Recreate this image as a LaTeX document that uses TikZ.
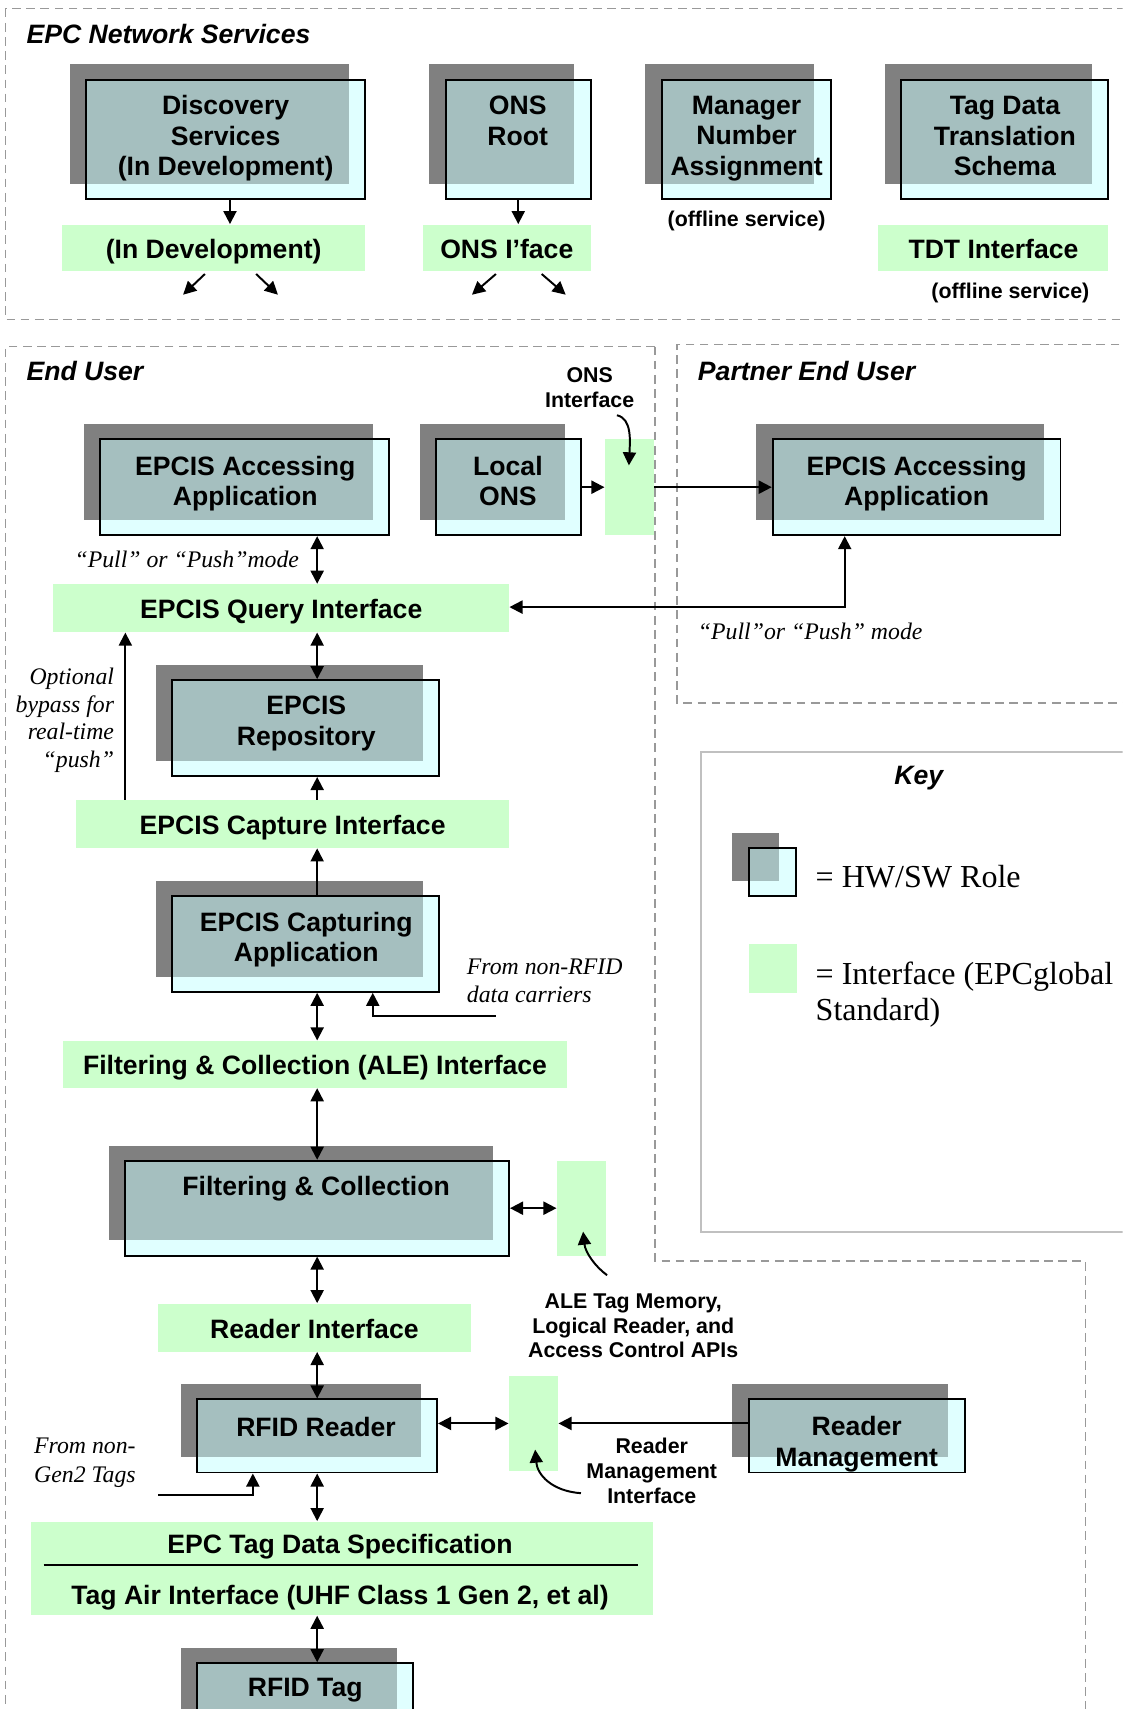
\documentclass[tikz,border=0pt]{standalone}
\usepackage{fontspec}
\setmainfont{Liberation Serif}
\setsansfont{Liberation Sans}
\usetikzlibrary{arrows.meta,fit,calc}
\definecolor{shadowgray}{HTML}{808080}
\definecolor{frontcyan}{HTML}{E0FFFF}
\definecolor{overlapgray}{HTML}{A5BFBF}
\definecolor{ifgreen}{HTML}{CCFFCC}
\definecolor{framegray}{HTML}{999999}
\definecolor{keygray}{HTML}{C0C0C0}
\newcommand\dgBox{\sffamily\bfseries\fontsize{12.2}{14}\selectfont}
\newcommand\dgSmall{\sffamily\bfseries\fontsize{9.8}{11.3}\selectfont}
\newcommand\dgTitle{\sffamily\bfseries\itshape\fontsize{12.2}{14}\selectfont}
\newcommand\dgNote{\rmfamily\itshape\fontsize{10.9}{12.6}\selectfont}
\newcommand\dgKey{\rmfamily\fontsize{14.7}{16.5}\selectfont}
% role box: name, x1, y1, x2, y2 of the front box
\newcommand\rolebox[5]{%
  \fill[shadowgray] (#2-15,#3-14) rectangle (#4-15,#5-14);
  \fill[frontcyan] (#2,#3) rectangle (#4,#5);
  \fill[overlapgray] (#2,#3) rectangle (#4-15,#5-14);
  \node[rolefront, fit={(#2,#3) (#4,#5)}] (#1) {};
}
% interface box: name, x1, y1, x2, y2, text
\newcommand\ifbox[6]{%
  \node[iface, fit={(#2,#3) (#4,#5)}] (#1) {};
  \node[boxtext, text height=0.73em, text depth=0.21em, yshift=-2.2pt] (#1-t) at (#1.center) {#6};
}
\begin{document}
\begin{tikzpicture}[x=0.5pt,y=-0.5pt,
  rolefront/.style={draw=black, line width=0.9pt, inner sep=0pt},
  iface/.style={fill=ifgreen, inner sep=0pt},
  boxtext/.style={font=\dgBox, align=center, inner sep=0pt},
  roletext/.style={boxtext, yshift=-1pt},
  smalltext/.style={font=\dgSmall, align=center, inner sep=0pt},
  titletext/.style={font=\dgTitle, anchor=west, inner sep=0pt},
  notetext/.style={font=\dgNote, inner sep=0pt},
  keytext/.style={font=\dgKey, anchor=west, align=left, inner sep=0pt},
  frame/.style={draw=framegray, line width=0.6pt, dash pattern=on 4pt off 2.5pt},
  keyframe/.style={draw=keygray, line width=0.9pt},
  arr/.style={line width=0.9pt, -{Triangle[length=6pt,width=6pt]}},
  darr/.style={line width=0.9pt, {Triangle[length=6pt,width=6pt]}-{Triangle[length=6pt,width=6pt]}}
]
\useasboundingbox (0,0) rectangle (1030,1568);
\clip (0,0) rectangle (1030,1568);

% ---------- frames ----------
\draw[frame] (5,8) rectangle (1040,293);
\draw[frame] (601,318) -- (5,318) -- (5,1580);
\draw[frame] (601,318) -- (601,1157) -- (996,1157) -- (996,1580);
\draw[frame] (1040,316) -- (621,316) -- (621,645) -- (1040,645);
\draw[keyframe] (1040,690) -- (643,690) -- (643,1130) -- (1040,1130);

\node[titletext] (t-net) at (24,31) {EPC Network Services};
\node[titletext] (t-eu) at (24,340) {End User};
\node[titletext] (t-peu) at (640,340) {Partner End User};
\node[font=\dgTitle, inner sep=0pt] (t-key) at (843,714) {Key};

% ---------- EPC Network Services ----------
\rolebox{disc}{79}{73}{335}{183}
\node[roletext] (disc-t) at (207,125) {Discovery\\Services\\(In Development)};
\rolebox{onsroot}{409}{73}{542}{183}
\node[boxtext] (onsroot-t) at (475,111) {ONS\\Root};
\rolebox{mna}{607}{73}{762}{183}
\node[roletext] (mna-t) at (685,125) {Manager\\Number\\Assignment};
\rolebox{tdt}{827}{73}{1017}{183}
\node[boxtext] (tdt-t) at (922,125) {Tag Data\\Translation\\Schema};

\ifbox{indev}{57}{206}{335}{249}{(In Development)}
\ifbox{onsiface}{388}{206}{542}{249}{ONS I’face}
\ifbox{tdtif}{806}{206}{1017}{249}{TDT Interface}
\node[smalltext] (off1) at (685,203) {(offline service)};
\node[smalltext] (off2) at (927,269) {(offline service)};

\draw[arr] ($(disc.south)+(4,0)$) -- ($(disc.south |- indev.north)+(4,0)$);
\draw[arr] (onsroot.south) -- (onsroot.south |- onsiface.north);
\draw[arr] ($(indev.south)+(-8,2)$) -- ++(-20,19);
\draw[arr] ($(indev.south)+(39,2)$) -- ++(20,19);
\draw[arr] ($(onsiface.south)+(-10,2)$) -- ++(-22,19);
\draw[arr] ($(onsiface.south)+(32,2)$) -- ++(22,19);

% ---------- End User ----------
\coordinate (sx) at (291,0);
\coordinate (bx) at (115,0);

\rolebox{acc}{92}{403}{357}{491}
\node[roletext] (acc-t) at (225,441.5) {EPCIS Accessing\\Application};
\rolebox{lons}{400}{403}{533}{491}
\node[boxtext] (lons-t) at (466,441.5) {Local\\ONS};
\ifbox{onsif}{555}{403}{600}{491}{}
\node[smalltext] (onsif-t) at (541,355.5) {ONS\\Interface};
\coordinate (onsl) at (566,381);
\coordinate (onsp) at (577,427);
\draw[arr] (onsl) .. controls (580,384) and (578,405) .. (onsp);

\rolebox{pacc}{709}{403}{973}{491}
\node[roletext] (pacc-t) at (841,441.5) {EPCIS Accessing\\Application};

\draw[arr] (lons.east) -- (onsif.west);
\draw[arr] (onsif.east) -- (pacc.west);

\ifbox{qi}{49}{536}{467}{580}{EPCIS Query Interface}
\node[notetext, anchor=west] (pp1) at (68,513) {“Pull” or “Push”mode};
\draw[darr] (acc.south -| sx) -- (qi.north -| sx);

\coordinate (pb) at (775,557);
\draw[darr] (pacc.south -| pb) -- (pb) -- (qi.east |- pb);
\node[notetext, anchor=west] (pp2) at (640,579) {“Pull”or “Push” mode};

\rolebox{rep}{158}{624}{403}{712}
\node[roletext] (rep-t) at (281,662) {EPCIS\\Repository};
\draw[darr] (qi.south -| sx) -- (rep.north -| sx);

\ifbox{ci}{70}{734}{467}{778}{EPCIS Capture Interface}
\draw[arr] (ci.north -| sx) -- (rep.south -| sx);
\draw[arr] (ci.north -| bx) -- (qi.south -| bx);
\node[notetext, anchor=east, align=right] (byp) at (105,661) {Optional\\bypass for\\real-time\\“push”};

\rolebox{cap}{158}{822}{403}{910}
\node[roletext] (cap-t) at (281,860) {EPCIS Capturing\\Application};
\draw[arr] (cap.north -| sx) -- (ci.south -| sx);

\coordinate (nr) at (455,932);
\coordinate (nrx) at (342,0);
\draw[arr] (nr) -| (cap.south -| nrx);
\node[notetext, anchor=west, align=left] (nrt) at (428,900) {From non-RFID\\data carriers};

\ifbox{ale}{58}{955}{520}{998}{Filtering \& Collection (ALE) Interface}
\draw[darr] (cap.south -| sx) -- (ale.north -| sx);

\rolebox{fc}{115}{1065}{467}{1152}
\node[roletext] (fc-t) at (290,1089) {Filtering \& Collection};
\draw[darr] (ale.south -| sx) -- (fc.north -| sx);

\ifbox{aleif}{511}{1065}{556}{1152}{}
\draw[darr] (fc.east) -- (aleif.west);
\coordinate (alec) at (557,1170);
\coordinate (alep) at (535,1130);
\draw[arr] (alec) .. controls (546,1162) and (537,1149) .. (alep);
\node[smalltext, font=\sffamily\bfseries\fontsize{9.8}{11.25}\selectfont] (alet) at (581,1216.5) {ALE Tag Memory,\\Logical Reader, and\\Access Control APIs};

\ifbox{ri}{145}{1196}{432}{1240}{Reader Interface}
\draw[darr] (fc.south -| sx) -- (ri.north -| sx);

\rolebox{rr}{181}{1284}{401}{1351}
\node[boxtext] (rr-t) at (290,1309) {RFID Reader};
\draw[darr] (ri.south -| sx) -- (rr.north -| sx);

\ifbox{rmif}{467}{1262}{512}{1350}{}
\rolebox{rm}{687}{1284}{885}{1351}
\node[roletext] (rm-t) at (786,1323) {Reader\\Management};
\draw[darr] (rr.east |- rmif.west) -- (rmif.west);
\draw[arr] (rm.west |- rmif.east) -- (rmif.east);
\coordinate (rmc) at (533,1370);
\coordinate (rmp) at (491,1330);
\draw[arr] (rmc) .. controls (506,1368) and (493,1353) .. (rmp);
\node[smalltext] (rmt) at (598,1349.5) {Reader\\Management\\Interface};

\coordinate (g2) at (145,1372);
\coordinate (g2x) at (232,0);
\draw[arr] (g2) -| (rr.south -| g2x);
\node[notetext, anchor=west, align=left, font=\rmfamily\itshape\fontsize{10.9}{13}\selectfont] (g2t) at (31,1342) {From non-\\Gen2 Tags};

\ifbox{tds}{28}{1396}{599}{1482}{}
\node[boxtext] (tds-a) at (312,1419) {EPC Tag Data Specification};
\node[boxtext] (tds-b) at (312,1466) {Tag Air Interface (UHF Class 1 Gen 2, et al)};
\draw[line width=0.9pt] (40,1436) -- (585,1436);
\draw[darr] (rr.south -| sx) -- (tds.north -| sx);

\rolebox{tag}{181}{1526}{379}{1585}
\node[boxtext] (tag-t) at (280,1551) {RFID Tag};
\draw[darr] (tds.south -| sx) -- (tag.north -| sx);

% ---------- Key ----------
\rolebox{keyrole}{687}{778}{730}{822}
\node[keytext] (k1) at (748,804) {= HW/SW Role};
\ifbox{keyif}{687}{866}{731}{911}{}
\node[keytext] (k2) at (748,912.5) {= Interface (EPCglobal\\Standard)};
\end{tikzpicture}
\end{document}
